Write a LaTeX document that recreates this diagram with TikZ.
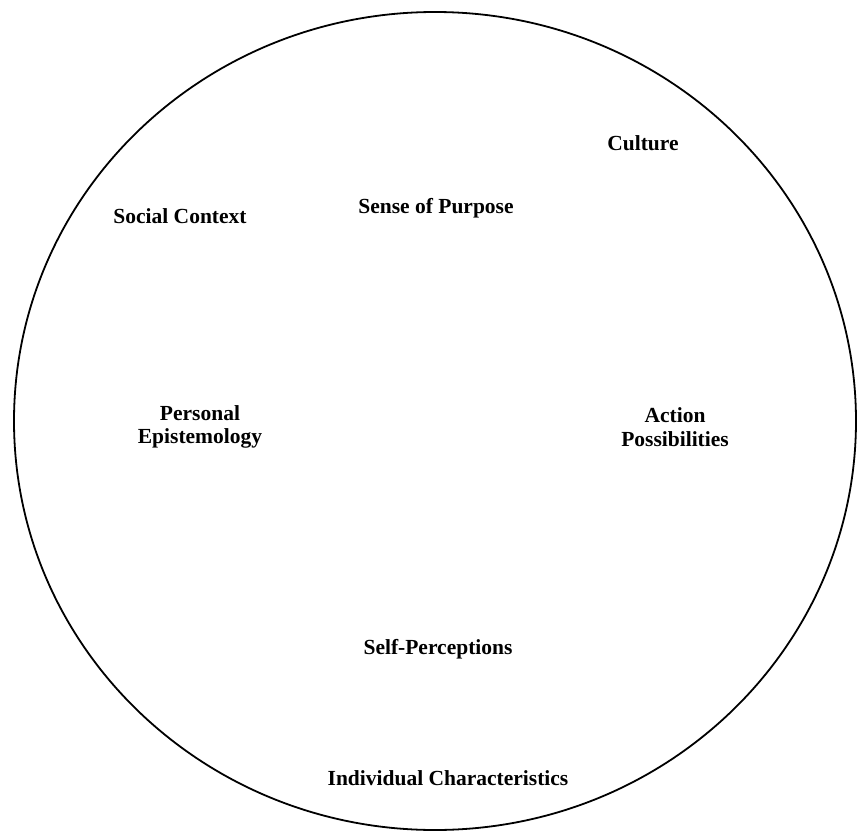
\documentclass[tikz,border=0pt]{standalone}
\usepackage{fontspec}
\setmainfont{Liberation Serif}
\usepackage{tikz}

\begin{document}
\begin{tikzpicture}[x=1pt,y=-1pt,
	lbl/.style={font=\fontsize{21.5}{23.5}\selectfont\bfseries, align=center, inner sep=0pt}]
	\useasboundingbox (0,0) rectangle (857,835);

	% outer boundary
	\draw[line width=1.8pt, black] (435,421) ellipse (421 and 409);

	\node[lbl] (culture) at (643,143) {Culture};
	\node[lbl] (social) at (180,216) {Social Context};
	\node[lbl] (purpose) at (436,208) {Sense of Purpose};
	\node[lbl] (episteme) at (200,427) {Personal\\Epistemology};
	\node[lbl] (action) at (675,427) {Action\\Possibilities};
	\node[lbl] (selfperc) at (438,649) {Self-Perceptions};
	\node[lbl] (indiv) at (448,778) {Individual Characteristics};
\end{tikzpicture}
\end{document}
